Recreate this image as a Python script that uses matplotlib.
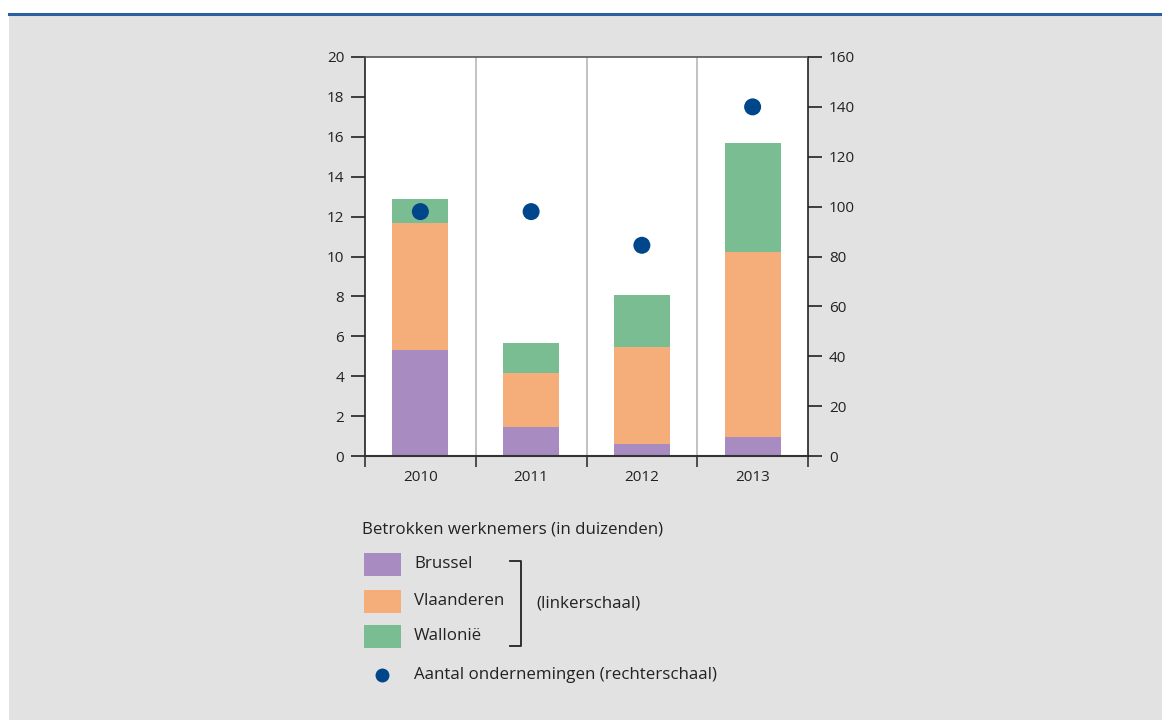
import numpy as np
import matplotlib.pyplot as plt
from matplotlib.patches import Rectangle
from matplotlib.lines import Line2D

plt.rcParams['font.family'] = ['Open Sans', 'DejaVu Sans']

years = ['2010', '2011', '2012', '2013']
brussel = [5.3, 1.45, 0.6, 0.95]
vlaanderen = [6.4, 2.7, 4.85, 9.3]
wallonie = [1.2, 1.5, 2.6, 5.45]
ondernemingen = [98, 98, 84.5, 140]

series_labels = ['Brussel', 'Vlaanderen', 'Wallonië']
COLORS = ['#a78bc1', '#f5ad79', '#7bbd93']
DOT = '#00468b'
BG = '#e2e2e2'
INK = '#222222'
FS = 12.2

fig = plt.figure(figsize=(11.62, 7.2), dpi=100)
fig.patch.set_facecolor('white')

# grey panel with blue rule on top
fig.patches.append(Rectangle((9 / 1162, 0), 1 - 9 / 1162, 1 - 15 / 720,
                             transform=fig.transFigure, facecolor=BG,
                             edgecolor='none', zorder=-5))
fig.lines.append(Line2D([9 / 1162, 1], [1 - 13.5 / 720] * 2,
                        transform=fig.transFigure, color='#2a5ea0', lw=2.2,
                        zorder=-4))

ax = fig.add_axes([365 / 1162, 1 - 456 / 720, 443 / 1162, 399 / 720])
ax.set_facecolor('white')

x = np.arange(len(years))
bottom = np.zeros(len(years))
for vals, color in zip([brussel, vlaanderen, wallonie], COLORS):
    ax.bar(x, vals, width=0.505, bottom=bottom, color=color, zorder=2)
    bottom += np.array(vals)

ax.set_xlim(-0.5, len(years) - 0.5)
ax.set_ylim(0, 20)
ax.set_yticks(np.arange(0, 21, 2))
ax.set_xticks(np.arange(-0.5, len(years), 1.0))
ax.set_xticklabels([])
ax.set_xticks(x, minor=True)
ax.set_xticklabels(years, minor=True)
for b in np.arange(0.5, len(years) - 1, 1.0):
    ax.axvline(b, color='#b8b8b8', lw=1.2, zorder=1)

ax.tick_params(axis='y', direction='out', length=10, width=1.2, color=INK,
               labelsize=11, labelcolor=INK, pad=5)
ax.tick_params(axis='x', which='major', direction='out', length=8, width=1.2,
               color='#333333')
ax.tick_params(axis='x', which='minor', length=0, labelsize=11,
               labelcolor=INK, pad=10)
for s in ['left', 'right']:
    ax.spines[s].set_color(INK)
    ax.spines[s].set_linewidth(1.2)
ax.spines['bottom'].set_color('#333333')
ax.spines['bottom'].set_linewidth(1.5)
ax.spines['top'].set_color('#555555')
ax.spines['top'].set_linewidth(1.2)

ax2 = ax.twinx()
ax2.set_ylim(0, 160)
ax2.set_yticks(np.arange(0, 161, 20))
ax2.scatter(x, ondernemingen, s=150, color=DOT, zorder=3, edgecolors='none')
ax2.tick_params(axis='y', direction='out', length=10, width=1.2, color=INK,
                labelsize=11, labelcolor=INK, pad=5)
for s in ax2.spines.values():
    s.set_visible(False)


# legend drawn by hand
def fx(px):
    return px / 1162


def fy(py):
    return 1 - py / 720


fig.text(fx(362), fy(530), 'Betrokken werknemers (in duizenden)',
         fontsize=FS, color=INK, va='center')
for lab, color, py in zip(series_labels, COLORS, [564.5, 601, 636.5]):
    fig.patches.append(Rectangle((fx(364), fy(py + 11.5)), fx(37), 23 / 720,
                                 transform=fig.transFigure, facecolor=color,
                                 edgecolor='none'))
    fig.text(fx(414), fy(py), lab, fontsize=FS, color=INK, va='center')

fig.lines.append(Line2D([fx(510), fx(521), fx(521), fx(510)],
                        [fy(561), fy(561), fy(646), fy(646)],
                        transform=fig.transFigure, color=INK, lw=1.3))
fig.text(fx(536), fy(603), '(linkerschaal)', fontsize=FS, color=INK,
         va='center')
fig.lines.append(Line2D([fx(382)], [fy(675)], transform=fig.transFigure,
                        marker='o', markersize=9, color=DOT, lw=0))
fig.text(fx(414), fy(675), 'Aantal ondernemingen (rechterschaal)',
         fontsize=FS, color=INK, va='center')

fig.savefig('out.png', dpi=100, facecolor=fig.get_facecolor())
